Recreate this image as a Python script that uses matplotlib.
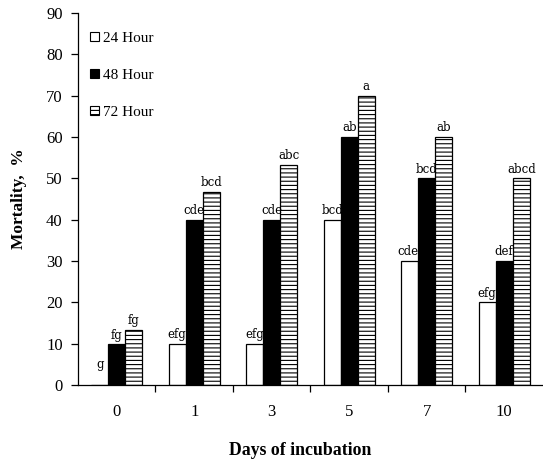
import matplotlib
matplotlib.use("Agg")
import matplotlib.pyplot as plt
import numpy as np
from matplotlib.patches import Patch

plt.rcParams['hatch.linewidth'] = 0.8

days = ["0", "1", "3", "5", "7", "10"]
series_names = ["24 Hour", "48 Hour", "72 Hour"]
h24 = [0, 10, 10, 40, 30, 20]
h48 = [9.8, 40, 40, 60, 50, 30]
h72 = [13.3, 46.7, 53.3, 70, 60, 50]
let24 = ["g", "efg", "efg", "bcd", "cdef", "efg"]
let48 = ["fg", "cde", "cde", "ab", "bcd", "def"]
let72 = ["fg", "bcd", "abc", "a", "ab", "abcd"]

serif = ["Liberation Serif", "DejaVu Serif"]
letserif = ["DejaVu Serif"]

fig = plt.figure(figsize=(5.43, 4.63), dpi=100)
ax = fig.add_axes([0.1436, 0.1685, 0.8564, 0.8035])

x = np.arange(len(days))
w = 0.22
styles = [dict(facecolor="white", edgecolor="black", hatch=None),
          dict(facecolor="black", edgecolor="black", hatch=None),
          dict(facecolor="white", edgecolor="black", hatch="----")]
data = [h24, h48, h72]
letters = [let24, let48, let72]
for i, (vals, st, lets) in enumerate(zip(data, styles, letters)):
    pos = x + (i - 1) * w
    bars = ax.bar(pos, vals, width=w, linewidth=0.9, **st)
    for xp, v, t in zip(pos, vals, lets):
        off = 10 if v == 0 else 2
        ax.annotate(t, (xp, v), xytext=(0, off), textcoords="offset points",
                    ha="center", va="bottom", fontsize=8.5, family=letserif)

ax.set_xlim(-0.5, 5.5)
ax.set_ylim(0, 90)
ax.set_yticks(np.arange(0, 91, 10))
ax.set_xticks(np.arange(0.5, 5.0, 1.0))
ax.set_xticklabels([])
ax.set_xticks(x, minor=True)
ax.set_xticklabels(days, minor=True)
ax.tick_params(axis="x", which="major", direction="out", length=5, width=0.9)
ax.tick_params(axis="x", which="minor", length=0, pad=14, labelsize=12)
ax.tick_params(axis="y", direction="out", length=5, width=0.9, labelsize=12, pad=6)
for lab in ax.get_xticklabels(minor=True) + ax.get_yticklabels():
    lab.set_family(serif)
ax.spines["top"].set_visible(False)
ax.spines["right"].set_visible(False)
ax.spines["left"].set_linewidth(0.9)
ax.spines["bottom"].set_linewidth(0.9)

ax.set_ylabel("Mortality,  %", fontsize=12.5, fontweight="bold", family=serif, labelpad=14)
ax.set_xlabel("Days of incubation", fontsize=12.8, fontweight="bold", family=serif)
ax.xaxis.set_label_coords(0.478, -0.177, transform=ax.transAxes)
ax.xaxis.label.set_va("center")

handles = [Patch(facecolor=s["facecolor"], edgecolor="black", hatch=s["hatch"], linewidth=0.8)
           for s in styles]
leg = ax.legend(handles, series_names, loc="upper left", bbox_to_anchor=(-0.003, 0.985),
                frameon=False, handlelength=0.55, handleheight=0.55, handletextpad=0.25,
                labelspacing=1.55, prop={"family": serif, "size": 11})

fig.savefig("out.png", dpi=100)
